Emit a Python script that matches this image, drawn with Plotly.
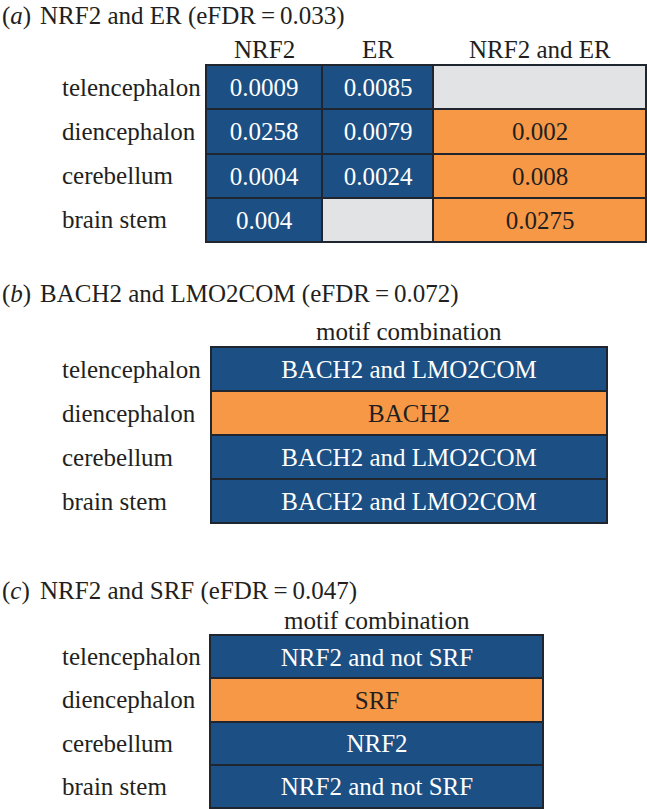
import plotly.graph_objects as go

W, H = 647, 809
FONT = "Liberation Serif"
FS = 25
BLUE = "#1c4f83"
ORANGE = "#f79846"
GREY = "#e2e3e5"
EDGE = "#1f2630"
INK = "#231f20"

regions = ["telencephalon", "diencephalon", "cerebellum", "brain stem"]

# (a) NRF2 and ER: p-values per region, None = not significant
cols_a = ["NRF2", "ER", "NRF2 and ER"]
nrf2_p = ["0.0009", "0.0258", "0.0004", "0.004"]
er_p = ["0.0085", "0.0079", "0.0024", None]
nrf2_er_p = [None, "0.002", "0.008", "0.0275"]
is_combo_col_a = [False, False, True]

# (b) BACH2 and LMO2COM, (c) NRF2 and SRF: motif combination per region
combo_header = "motif combination"
combo_b = ["BACH2 and LMO2COM", "BACH2", "BACH2 and LMO2COM", "BACH2 and LMO2COM"]
combo_c = ["NRF2 and not SRF", "SRF", "NRF2", "NRF2 and not SRF"]
highlight_b = [False, True, False, False]
highlight_c = [False, True, False, False]

titles = [
    ("a", "NRF2 and ER (eFDR\u2009=\u20090.033)"),
    ("b", "BACH2 and LMO2COM (eFDR\u2009=\u20090.072)"),
    ("c", "NRF2 and SRF (eFDR\u2009=\u20090.047)"),
]

# layout in pixels (left, right, top, bottom) of each table; title / header centre y
boxes = {"a": (206, 646, 65, 242), "b": (211, 607, 347, 523), "c": (210, 543, 635, 808)}
title_y = {"a": 16, "b": 294, "c": 591}
header_y = {"a": 50, "b": 332, "c": 620}
col_widths_a = [116, 111, 213]


def px_dom(lo, hi, total, flip=False):
    if flip:
        return [1 - hi / total, 1 - lo / total]
    return [lo / total, hi / total]


def add_cells(fig, x, y, text, mask, color, font_color, ax):
    z = [[1 if m else None for m in row] for row in mask]
    txt = [[t if m and t else "" for t, m in zip(trow, mrow)] for trow, mrow in zip(text, mask)]
    fig.add_trace(go.Heatmap(
        x=x, y=y, z=z, text=txt, texttemplate="%{text}",
        colorscale=[[0, color], [1, color]], showscale=False,
        xgap=2, ygap=2, hoverinfo="skip",
        textfont=dict(family=FONT, size=FS, color=font_color),
        xaxis="x" + ax, yaxis="y" + ax,
    ))


fig = go.Figure()
rows_idx = list(range(len(regions)))

# ---- (a)
edges_a = [0]
for w in col_widths_a:
    edges_a.append(edges_a[-1] + w)
centers_a = [(edges_a[i] + edges_a[i + 1]) / 2 for i in range(len(cols_a))]
table_a = [list(r) for r in zip(nrf2_p, er_p, nrf2_er_p)]
blue_mask = [[v is not None and not c for v, c in zip(r, is_combo_col_a)] for r in table_a]
orange_mask = [[v is not None and c for v, c in zip(r, is_combo_col_a)] for r in table_a]
grey_mask = [[v is None for v in r] for r in table_a]
add_cells(fig, edges_a, rows_idx, table_a, blue_mask, BLUE, "white", "")
add_cells(fig, edges_a, rows_idx, table_a, orange_mask, ORANGE, INK, "")
add_cells(fig, edges_a, rows_idx, table_a, grey_mask, GREY, INK, "")

# ---- (b), (c)
for ax, combo, hl in [("2", combo_b, highlight_b), ("3", combo_c, highlight_c)]:
    text = [[c] for c in combo]
    xcat = [combo_header]
    add_cells(fig, xcat, rows_idx, text, [[not h] for h in hl], BLUE, "white", ax)
    add_cells(fig, xcat, rows_idx, text, [[h] for h in hl], ORANGE, INK, ax)

axis_common = dict(showgrid=False, zeroline=False, showline=True, mirror=True,
                   linecolor=EDGE, linewidth=1, ticks="", showticklabels=False,
                   automargin=False)
layout = {}
for key, ax in [("a", ""), ("b", "2"), ("c", "3")]:
    l, r, t, b = boxes[key]
    xa = dict(axis_common, domain=px_dom(l, r, W), anchor="y" + ax)
    if key == "a":
        xa.update(range=[0, edges_a[-1]])
    layout["xaxis" + ax] = xa
    layout["yaxis" + ax] = dict(axis_common, domain=px_dom(t, b, H, flip=True),
                                range=[len(regions) - 0.5, -0.5], anchor="x" + ax)

font = dict(family=FONT, size=FS, color=INK)
annotations = []
for (letter, txt), ax in zip(titles, ["", "2", "3"]):
    yc = 1 - title_y[letter] / H
    annotations.append(dict(text="(<i>%s</i>)" % letter, x=0, y=yc, xref="paper", yref="paper",
                            xanchor="left", yanchor="middle", showarrow=False, font=font))
    annotations.append(dict(text=txt, x=38 / W, y=yc, xref="paper", yref="paper",
                            xanchor="left", yanchor="middle", showarrow=False, font=font))
    for i, reg in enumerate(regions):
        annotations.append(dict(text=reg, x=60 / W, y=i, xref="paper", yref="y" + ax,
                                xanchor="left", yanchor="middle", showarrow=False, font=font))
    # column headers
    hy = 1 - header_y[letter] / H
    if letter == "a":
        heads = list(zip(centers_a, cols_a))
    else:
        heads = [(0, combo_header)]
    for xc, head in heads:
        annotations.append(dict(text=head, x=xc, y=hy, xref="x" + ax, yref="paper",
                                xanchor="center", yanchor="middle", showarrow=False, font=font))

fig.update_layout(
    width=W, height=H,
    margin=dict(l=0, r=0, t=0, b=0),
    paper_bgcolor="white", plot_bgcolor=EDGE,
    font=dict(family=FONT),
    showlegend=False,
    annotations=annotations,
    **layout,
)

# page body has an 8px default margin; drop it so the figure sits at (0, 0)
fig.write_html("out.html", config={"displayModeBar": False},
               post_script="document.body.style.margin='0px';")
